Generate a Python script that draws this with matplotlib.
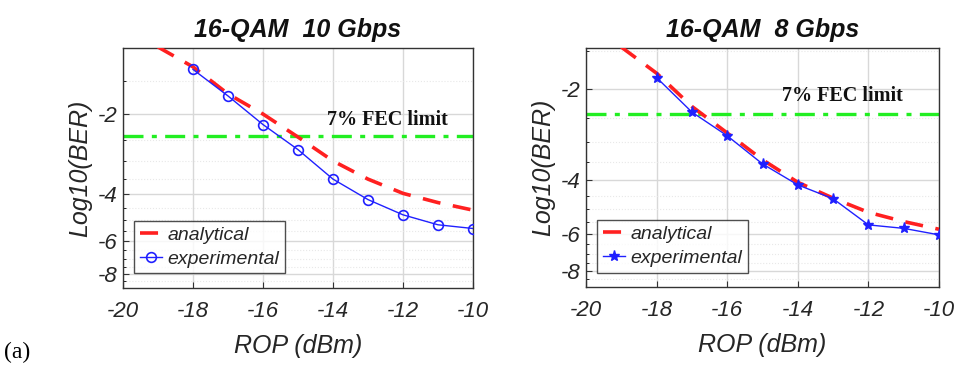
import numpy as np
import matplotlib
matplotlib.use("Agg")
import matplotlib.pyplot as plt
from matplotlib.ticker import FixedLocator, FixedFormatter, NullFormatter

# data (Log10(BER) vs ROP in dBm)
rop_exp = [-18, -17, -16, -15, -14, -13, -12, -11, -10]
rop_ana = [-19, -18, -17, -16, -15, -14, -13, -12, -11, -10]

ber_exp_10g = [-1.36, -1.71, -2.19, -2.72, -3.51, -4.19, -4.78, -5.21, -5.38]
ber_ana_10g = [-1.12, -1.33, -1.68, -2.00, -2.44, -3.00, -3.51, -3.97, -4.30, -4.59]

ber_exp_8g = [-1.84, -2.39, -2.86, -3.54, -4.15, -4.61, -5.62, -5.77, -6.06]
ber_ana_8g = [-1.46, -1.78, -2.29, -2.80, -3.43, -4.07, -4.59, -5.11, -5.48, -5.81]

fec_limit = -2.42
titles = ["16-QAM  10 Gbps", "16-QAM  8 Gbps"]
xticks = [-20, -18, -16, -14, -12, -10]
yticks = [-8, -6, -4, -2]
yminor = [-8.5, -7.5, -7, -6.5, -5.5, -5, -4.5, -3.5, -3, -2.5, -1.5]

sans = ["Liberation Sans", "DejaVu Sans"]
serif = ["Liberation Serif", "DejaVu Serif"]
txt = "#262626"


def fwd(y):
    return -np.log10(np.maximum(np.abs(y), 1e-6))


def inv(u):
    return -10.0 ** (-u)


fig = plt.figure(figsize=(9.58, 3.70), dpi=100)
ax1 = fig.add_axes([0.1284, 0.2216, 0.3653, 0.6486])
ax2 = fig.add_axes([0.6117, 0.2243, 0.3685, 0.6460])

panels = [
    (ax1, ber_ana_10g, ber_exp_10g, "o", (-9, -1.13), (327, 120)),
    (ax2, ber_ana_8g, ber_exp_8g, "*", (-9, -1.47), (782, 96)),
]

for i, (ax, ana, exp, mk, ylim, fecpos) in enumerate(panels):
    ax.set_yscale("function", functions=(fwd, inv))
    ax.axhline(fec_limit, color="#22ee22", lw=2.4, ls=(0, (6, 2.5, 1.5, 2.5)), zorder=2)
    ax.plot(rop_ana, ana, color="#ff2020", lw=2.6, ls=(0, (5, 3.5)), label="analytical", zorder=3)
    if mk == "o":
        ax.plot(rop_exp, exp, color="#2020ff", lw=1.0, marker="o", ms=7, mfc="none",
                mew=1.2, label="experimental", zorder=4)
    else:
        ax.plot(rop_exp, exp, color="#2020ff", lw=1.0, marker="*", ms=8,
                mew=1.0, label="experimental", zorder=4)

    ax.set_xlim(-20, -10)
    ax.set_ylim(*ylim)
    ax.xaxis.set_major_locator(FixedLocator(xticks))
    ax.yaxis.set_major_locator(FixedLocator(yticks))
    ax.yaxis.set_major_formatter(FixedFormatter([str(v) for v in yticks]))
    ax.yaxis.set_minor_locator(FixedLocator(yminor))
    ax.yaxis.set_minor_formatter(NullFormatter())
    ax.set_xticklabels([str(v) for v in xticks])

    ax.grid(True, which="major", color="#d8d8d8", lw=1.0)
    ax.grid(True, which="minor", axis="y", color="#e8e8e8", lw=0.8, ls=":")
    ax.tick_params(direction="in", length=4, width=0.8, colors="#333333",
                   top=False, right=False, labelcolor=txt)
    ax.tick_params(axis="x", pad=9)
    ax.tick_params(axis="y", pad=4)
    ax.tick_params(which="minor", direction="in", length=2.5, width=0.6)
    for lab in ax.get_xticklabels() + ax.get_yticklabels():
        lab.set_family(sans)
        lab.set_style("italic")
        lab.set_fontsize(16)
    for sp in ax.spines.values():
        sp.set_color("#333333")
        sp.set_linewidth(1.0)

    ax.set_xlabel("ROP (dBm)", family=sans, style="italic", fontsize=18, color=txt, labelpad=9)
    ax.set_ylabel("Log10(BER)", family=sans, style="italic", fontsize=18, color=txt, labelpad=4)
    ax.set_title(titles[i], family=sans, style="italic", weight="bold",
                 fontsize=18, color="#111111", pad=8)

    leg = ax.legend(loc="lower left", bbox_to_anchor=(0.005, 0.02), frameon=True,
                    fancybox=False, edgecolor="#222222", borderpad=0.3,
                    handlelength=1.1, handletextpad=0.3, labelspacing=0.3,
                    prop={"family": sans, "style": "italic", "size": 14})
    leg.get_frame().set_linewidth(1.0)
    for t in leg.get_texts():
        t.set_color(txt)

    fig.text(fecpos[0] / 958, 1 - fecpos[1] / 370, "7% FEC limit",
             family=serif, weight="bold", fontsize=14.5,
             ha="left", va="center", color="#111111")

fig.text(0.004, 1 - 352 / 370, "(a)", family=serif,
         fontsize=17, ha="left", va="center", color="black")

fig.savefig("out.png", dpi=100)
